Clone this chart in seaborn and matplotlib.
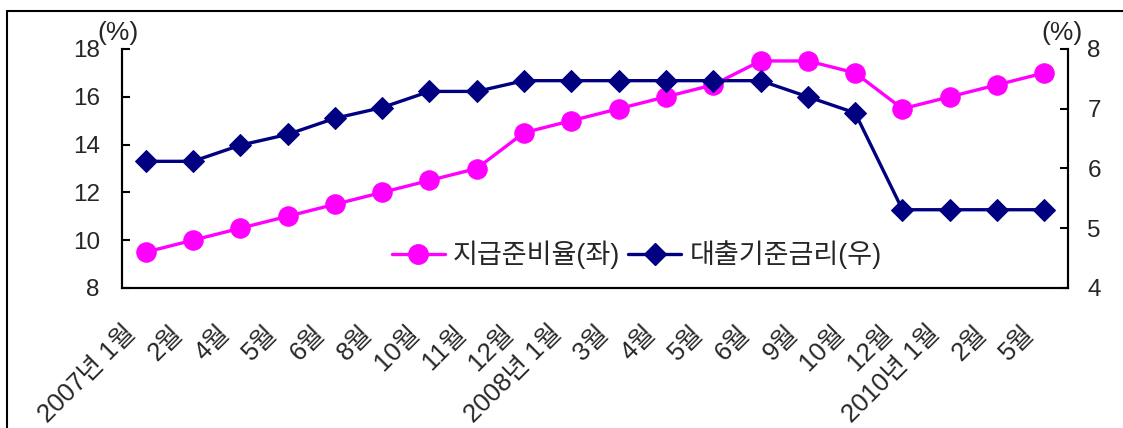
import numpy as np
import pandas as pd
import seaborn as sns
import matplotlib.pyplot as plt
from matplotlib.lines import Line2D
import matplotlib.transforms as mtransforms

categories = ["2007년 1월", "2월", "4월", "5월", "6월", "8월", "10월", "11월", "12월",
              "2008년 1월", "3월", "4월", "5월", "6월", "9월", "10월", "12월",
              "2010년 1월", "2월", "5월"]
reserve_ratio = [9.5, 10, 10.5, 11, 11.5, 12, 12.5, 13, 14.5, 15, 15.5, 16, 16.5,
                 17.5, 17.5, 17, 15.5, 16, 16.5, 17]
lending_rate = [6.12, 6.12, 6.39, 6.57, 6.84, 7.02, 7.29, 7.29, 7.47, 7.47, 7.47,
                7.47, 7.47, 7.47, 7.20, 6.93, 5.31, 5.31, 5.31, 5.31]
series_names = ["지급준비율(좌)", "대출기준금리(우)"]
left_ticks = [8, 10, 12, 14, 16, 18]
right_ticks = [4, 5, 6, 7, 8]

sns.set_theme(style="white")
plt.rcParams['font.family'] = ['Liberation Sans', 'Noto Sans CJK KR']

n = len(categories)
df = pd.DataFrame({"idx": np.arange(n), "reserve": reserve_ratio, "lending": lending_rate})

fig = plt.figure(figsize=(11.23, 4.28), dpi=100)
ax = fig.add_axes([122 / 1123, 1 - 288 / 428, (1068 - 122) / 1123, (288 - 49) / 428])
ax2 = ax.twinx()

pink = "#FF00FF"
navy = "#000080"
sns.lineplot(data=df, x="idx", y="reserve", ax=ax, color=pink, marker="o",
             markersize=14, markeredgecolor=pink, linewidth=2.4, legend=False)
sns.lineplot(data=df, x="idx", y="lending", ax=ax2, color=navy, marker="D",
             markersize=11, markeredgecolor=navy, linewidth=2.4, legend=False)

ax.set_xlim(-0.5, n - 0.5)
ax.set_ylim(8, 18)
ax2.set_ylim(4, 8)
ax.set_yticks(left_ticks)
ax2.set_yticks(right_ticks)
ax.set_xlabel("")
ax.set_ylabel("")
ax2.set_ylabel("")

ax.set_xticks(np.arange(-0.5, n, 1))
ax.set_xticklabels([])
ax.set_xticks(np.arange(n), minor=True)
ax.set_xticklabels(categories, minor=True, rotation=45, ha="right", va="center",
                   rotation_mode="anchor", fontsize=18.5)
ax.tick_params(axis="x", which="major", direction="in", length=7, width=1.5, color="black")
ax.tick_params(axis="x", which="minor", length=0, pad=30)
offset = mtransforms.ScaledTranslation(-14 / 100, 0, fig.dpi_scale_trans)
for lbl in ax.get_xticklabels(minor=True):
    lbl.set_transform(lbl.get_transform() + offset)

ax.tick_params(axis="y", direction="in", length=6, width=1.5, color="black",
               labelsize=17.5, pad=16, left=True)
ax2.tick_params(axis="y", direction="in", length=6, width=1.5, color="black",
                labelsize=17.5, pad=14, right=True)

for a in (ax, ax2):
    a.grid(False)
    a.spines["top"].set_visible(False)
    for s in ("left", "right", "bottom"):
        a.spines[s].set_color("black")
        a.spines[s].set_linewidth(1.5)

handles = [Line2D([], [], color=pink, marker="o", markersize=14, linewidth=2.4),
           Line2D([], [], color=navy, marker="D", markersize=11, linewidth=2.4)]
ax2.legend(handles, series_names, loc="center", bbox_to_anchor=(0.544, 0.138),
           ncol=2, frameon=False, fontsize=19.5, handlelength=1.96,
           handletextpad=0.3, columnspacing=0.3, borderpad=0.1)

fig.text(118 / 1123, 1 - 33 / 428, "(%)", ha="center", va="center", fontsize=19)
fig.text(1062 / 1123, 1 - 33 / 428, "(%)", ha="center", va="center", fontsize=19)

fig.add_artist(Line2D([7 / 1123, 1], [1 - 11 / 428, 1 - 11 / 428],
                      transform=fig.transFigure, color="black", linewidth=1.5))
fig.add_artist(Line2D([7 / 1123, 7 / 1123], [0, 1 - 11 / 428],
                      transform=fig.transFigure, color="black", linewidth=1.5))

fig.savefig("out.png", dpi=100)
